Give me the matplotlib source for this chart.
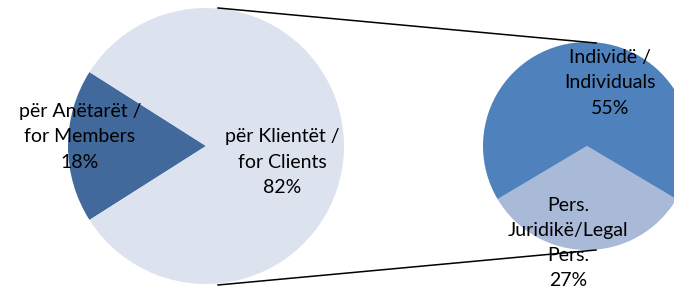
import matplotlib
matplotlib.use("Agg")
import matplotlib.pyplot as plt

###DATA
main_labels = ["për Anëtarët /\nfor Members", "për Klientët /\nfor Clients"]
main_values = [18, 82]

sub_labels = ["Pers.\nJuridikë/Legal\nPers.", "Individë /\nIndividuals"]
sub_values = [27, 55]

main_colors = ["#41699C", "#DCE3EF"]
sub_colors = ["#A9B9D8", "#4F81BD"]

plt.rcParams['font.family'] = ['Lato', 'DejaVu Sans']

###PLOT
fig = plt.figure(figsize=(6.74, 2.92), dpi=100)
ax = fig.add_axes([0, 0, 1, 1])

# left pie: small slice centred on the left side
start_main = 180 - main_values[0] / sum(main_values) * 360 / 2
ax.pie(main_values, colors=main_colors, startangle=start_main,
       center=(206, 146), radius=138, counterclock=True,
       wedgeprops=dict(linewidth=0))

# right pie: breakdown of the clients slice, small part centred at the bottom
start_sub = 270 - sub_values[0] / sum(sub_values) * 360 / 2
ax.pie(sub_values, colors=sub_colors, startangle=start_sub,
       center=(587, 146), radius=104, counterclock=True,
       wedgeprops=dict(linewidth=0))

# connector lines
ax.plot([218, 596], [284, 249], color="black", lw=1.1)
ax.plot([218, 596], [7, 42], color="black", lw=1.1)

fs = 14
ls = 1.58
ax.text(80, 155, f"{main_labels[0]}\n{main_values[0]}%", ha="center", va="center",
        fontsize=fs, linespacing=ls)
ax.text(282, 130, f"{main_labels[1]}\n{main_values[1]}%", ha="center", va="center",
        fontsize=fs, linespacing=ls)
ax.text(610, 209, f"{sub_labels[1]}\n{sub_values[1]}%", ha="center", va="center",
        fontsize=fs, linespacing=ls)
ax.text(568, 49, f"{sub_labels[0]}\n{sub_values[0]}%", ha="center", va="center",
        fontsize=fs, linespacing=ls)

ax.set_xlim(0, 674)
ax.set_ylim(0, 292)
ax.set_aspect("equal")
ax.axis("off")

fig.savefig("out.png", dpi=100)
